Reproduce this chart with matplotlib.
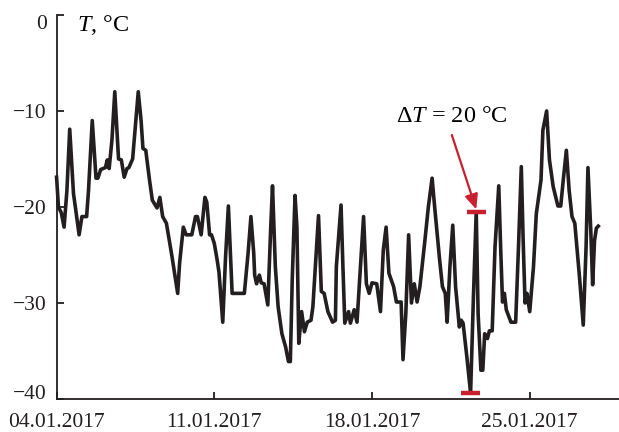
import numpy as np
import pandas as pd
import matplotlib
matplotlib.use("Agg")
import matplotlib.pyplot as plt
import matplotlib.dates as mdates

plt.rcParams['font.family'] = ['Liberation Serif', 'DejaVu Serif']
plt.rcParams['mathtext.fontset'] = 'custom'
plt.rcParams['mathtext.rm'] = 'Liberation Serif'
plt.rcParams['mathtext.it'] = 'Liberation Serif:italic'

# hours since 04.01.2017 00:00 and air temperature, °C
hours = [0, 2, 5, 8, 11, 14, 18, 20, 24, 27, 32, 34, 38, 42, 44, 47, 52, 54, 56, 59,
         62, 66, 69, 72, 75, 77, 81, 87, 90, 92, 95, 99, 102, 107, 110, 113, 117, 123, 129, 131,
         135, 138, 144, 148, 150, 154, 158, 160, 163, 165, 168, 171, 173, 177, 180, 183, 187, 200, 204, 207,
         210, 211, 213, 216, 218, 221, 225, 228, 230, 233, 236, 240, 244, 247, 249, 251, 254, 256, 258, 261,
         264, 267, 271, 273, 279, 282, 285, 289, 294, 297, 298, 303, 305, 307, 311, 313, 317, 320, 327, 330,
         333, 336, 341, 345, 348, 351, 354, 359, 362, 367, 369, 372, 375, 378, 381, 384, 387, 392, 396, 400,
         403, 408, 411, 414, 416, 419, 422, 425, 429, 431, 433, 437, 441, 444, 447, 449, 452, 454, 456, 459,
         461, 464, 467, 471, 473, 475, 477, 479, 484, 489, 492, 495, 497, 499, 501, 504, 508, 511, 516, 518,
         522, 525, 529, 534, 537, 540, 543, 546, 549, 552, 557, 561, 564, 566, 569, 571, 573, 575, 577]
temps = [-16.9, -20.0, -20.6, -22.1, -18.3, -11.9, -18.6, -20.0, -22.9, -21.0, -21.0, -18.3, -11.0, -17.0, -17.0, -16.1, -15.9, -15.1, -16.0, -13.0,
         -8.0, -15.0, -15.1, -16.9, -16.0, -15.9, -15.0, -8.0, -11.0, -13.9, -14.1, -17.2, -19.3, -20.1, -19.0, -21.0, -21.7, -25.2, -29.0, -25.9,
         -22.1, -22.9, -22.9, -21.0, -21.0, -22.9, -19.0, -19.5, -22.9, -22.9, -23.8, -25.5, -26.8, -32.0, -25.2, -19.9, -29.0, -29.0, -24.8, -21.0,
         -24.8, -27.1, -28.0, -27.1, -27.9, -28.0, -30.2, -22.4, -17.8, -26.2, -30.4, -33.2, -34.6, -36.1, -36.1, -27.6, -18.8, -22.1, -34.2, -30.9,
         -33.0, -32.0, -31.8, -30.4, -20.9, -28.8, -29.0, -30.9, -32.0, -31.8, -26.2, -19.8, -26.2, -32.1, -30.9, -32.1, -30.7, -32.0, -21.0, -28.0,
         -29.0, -27.9, -28.0, -30.9, -24.5, -22.1, -26.9, -28.3, -29.9, -29.9, -35.9, -31.1, -22.9, -30.0, -28.0, -29.9, -28.3, -23.8, -20.0, -17.0,
         -20.3, -25.5, -28.3, -29.0, -32.0, -26.2, -21.9, -28.3, -32.5, -31.8, -32.1, -35.6, -39.4, -29.4, -20.5, -31.1, -37.0, -37.0, -33.2, -33.7,
         -32.9, -32.9, -24.2, -17.8, -24.2, -29.9, -29.0, -30.7, -32.0, -32.0, -24.2, -15.8, -23.5, -30.0, -29.0, -30.9, -26.2, -20.7, -17.2, -12.0,
         -10.0, -15.1, -17.9, -19.9, -19.9, -16.9, -14.1, -18.3, -21.0, -21.7, -27.3, -32.3, -24.2, -15.9, -22.4, -28.1, -23.5, -22.2, -22.0]

# hours of the sharp drop/rise marked by ΔT
jump_hours = [441, 447]
jump_label = r'$\Delta T$ = 20 °C'

start = pd.Timestamp('2017-01-04')
t = start + pd.to_timedelta(hours, unit='h')
s = pd.Series(temps, index=t)

fig = plt.figure(figsize=(6.19, 4.32), dpi=100)
ax = fig.add_axes([0.0914, 0.0764, 0.91, 0.889])

ax.plot(s.index, s.values, color='#231f20', lw=2.6, solid_joinstyle='round', clip_on=False)

# red bars at the jump extremes
red = '#c8202e'
half = pd.Timedelta(hours=10)
for h in jump_hours:
    tt = start + pd.Timedelta(hours=h)
    ax.hlines(s[tt], tt - half, tt + half, color=red, lw=3.2, zorder=3)

top_t = start + pd.Timedelta(hours=jump_hours[1])
ax.annotate('', xy=(top_t, s[top_t] + 0.25), xytext=(top_t - pd.Timedelta(hours=26), -12.5),
            arrowprops=dict(arrowstyle='-|>,head_length=0.9,head_width=0.4', color=red, lw=1.6,
                            shrinkA=0, shrinkB=0))
ax.text(start + pd.Timedelta(hours=421), -10.6, jump_label, fontsize=17.5, ha='center', va='center')

ax.text(0.037, 0.975, r'$T$, °C', transform=ax.transAxes, fontsize=17.5, ha='left', va='center')

ax.set_ylim(-40, 0)
ax.set_xlim(start, start + pd.Timedelta(days=25))
ax.set_yticks([0, -10, -20, -30, -40])
ax.set_xticks([start + pd.Timedelta(days=d) for d in (0, 7, 14, 21)])
ax.xaxis.set_major_formatter(mdates.DateFormatter('%d.%m.%Y'))

for side in ('top', 'right'):
    ax.spines[side].set_visible(False)
for side in ('left', 'bottom'):
    ax.spines[side].set_linewidth(1.3)
    ax.spines[side].set_color('#231f20')
ax.tick_params(direction='in', length=5, width=1.3, labelsize=15.5, colors='#231f20')
ax.tick_params(axis='y', pad=7)
ax.tick_params(axis='x', pad=10)

# keep the end labels of the y axis inside the axis span
fig.canvas.draw()
ylabels = ax.get_yticklabels()
ylabels[0].set_va('top')
ylabels[-1].set_va('baseline')

fig.savefig('out.png', dpi=100)
